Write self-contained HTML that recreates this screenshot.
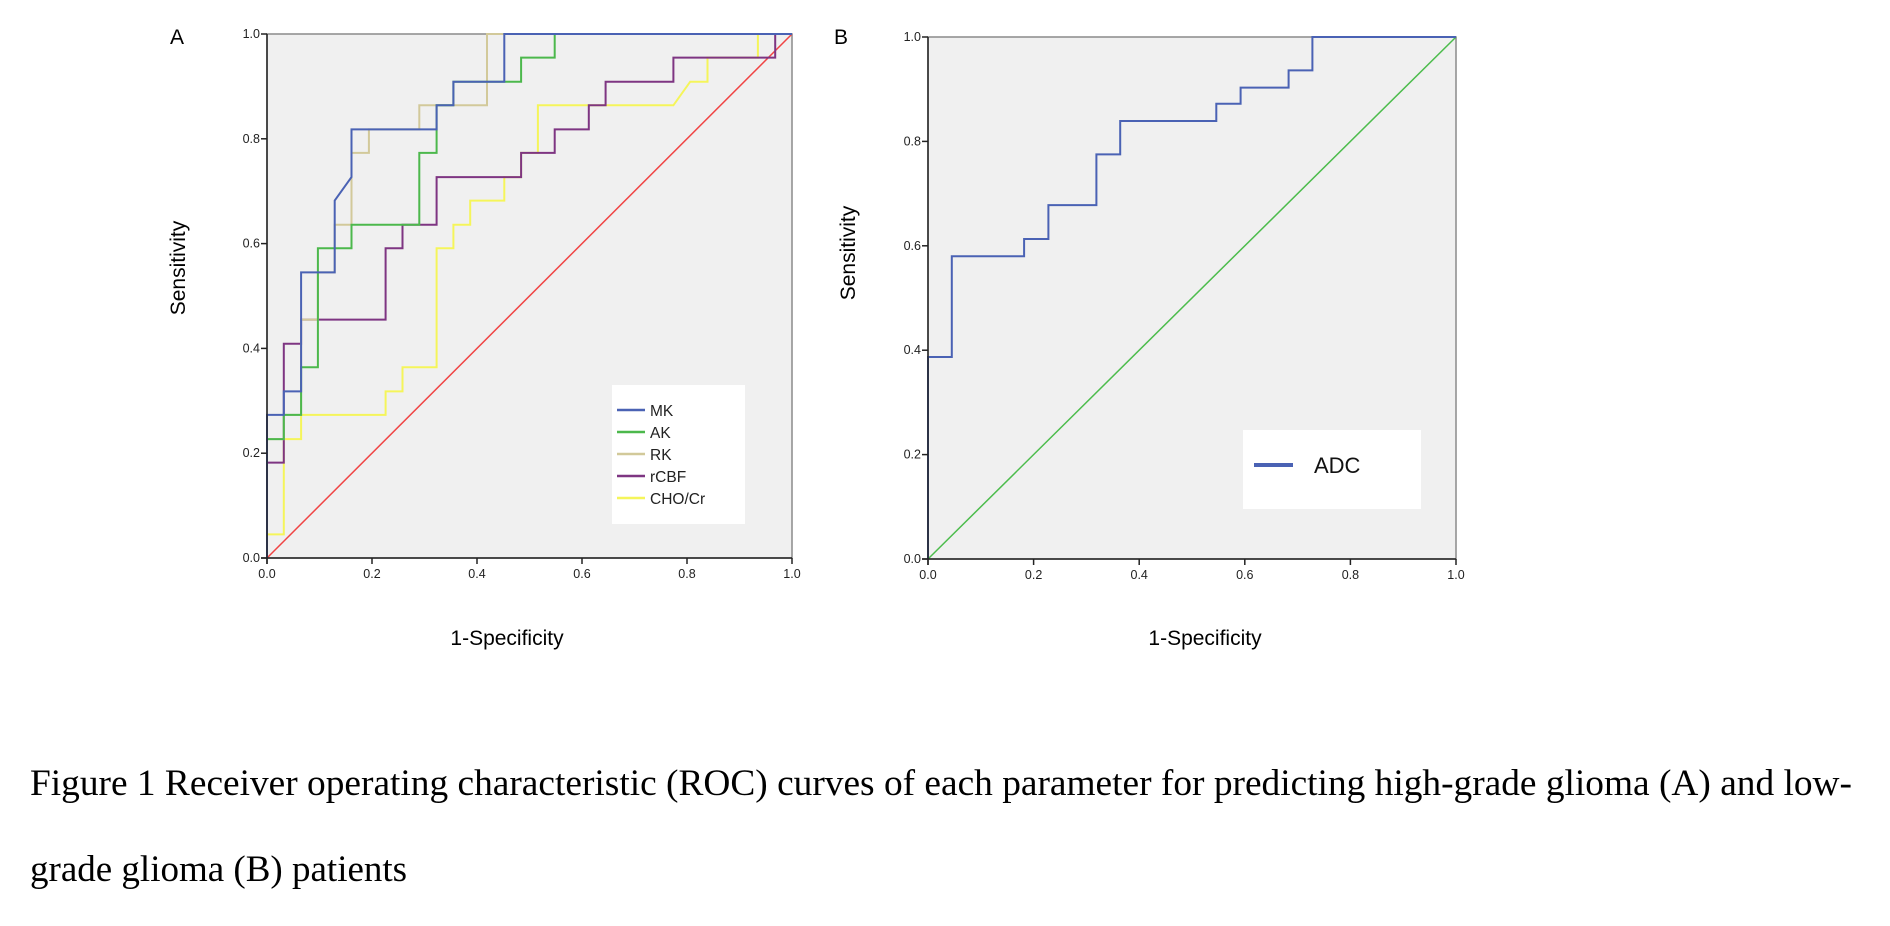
<!DOCTYPE html>
<html><head><meta charset="utf-8">
<style>
html,body{margin:0;padding:0;background:#fff;width:1890px;height:926px;overflow:hidden}
svg{display:block}
.tk{font-family:"Liberation Sans",sans-serif;font-size:12.5px;fill:#222}
.at{font-family:"Liberation Sans","DejaVu Sans",sans-serif;font-size:21px;fill:#000}
.cap{font-family:"Liberation Serif",serif;font-size:37px;fill:#000}
</style></head>
<body>
<svg id="fig" width="1890" height="926">
<text x="170" y="44" class="at">A</text>
<text x="834" y="44" class="at">B</text>
<g id="pa"></g>
<g id="pb"></g>
<text x="30" y="795" class="cap" textLength="1822" lengthAdjust="spacingAndGlyphs">Figure 1 Receiver operating characteristic (ROC) curves of each parameter for predicting high-grade glioma (A) and low-</text>
<text x="30" y="881" class="cap">grade glioma (B) patients</text>
</svg>
<script>
const ticks=[0,0.2,0.4,0.6,0.8,1.0];
const tickLabels=["0.0","0.2","0.4","0.6","0.8","1.0"];
const seriesNamesA=["MK","AK","RK","rCBF","CHO/Cr"];
const mkFpr=[0,0,0.032,0.032,0.065,0.065,0.129,0.129,0.161,0.161,0.323,0.323,0.355,0.355,0.452,0.452,1];
const mkTpr=[0,0.273,0.273,0.318,0.318,0.545,0.545,0.682,0.727,0.818,0.818,0.864,0.864,0.909,0.909,1,1];
const akFpr=[0,0,0.032,0.032,0.065,0.065,0.097,0.097,0.161,0.161,0.29,0.29,0.323,0.323,0.355,0.355,0.484,0.484,0.548,0.548,1];
const akTpr=[0,0.227,0.227,0.273,0.273,0.364,0.364,0.591,0.591,0.636,0.636,0.773,0.773,0.864,0.864,0.909,0.909,0.955,0.955,1,1];
const rkFpr=[0,0,0.032,0.032,0.065,0.065,0.097,0.097,0.129,0.129,0.161,0.161,0.194,0.194,0.29,0.29,0.419,0.419,1];
const rkTpr=[0,0.227,0.227,0.273,0.273,0.455,0.455,0.545,0.545,0.636,0.636,0.773,0.773,0.818,0.818,0.864,0.864,1,1];
const cbfFpr=[0,0,0.032,0.032,0.065,0.065,0.226,0.226,0.258,0.258,0.323,0.323,0.484,0.484,0.548,0.548,0.613,0.613,0.645,0.645,0.774,0.774,0.968,0.968,1];
const cbfTpr=[0,0.182,0.182,0.409,0.409,0.455,0.455,0.591,0.591,0.636,0.636,0.727,0.727,0.773,0.773,0.818,0.818,0.864,0.864,0.909,0.909,0.955,0.955,1,1];
const choFpr=[0,0,0.032,0.032,0.065,0.065,0.226,0.226,0.258,0.258,0.323,0.323,0.355,0.355,0.387,0.387,0.452,0.452,0.484,0.484,0.516,0.516,0.774,0.806,0.839,0.839,0.935,0.935,1];
const choTpr=[0,0.045,0.045,0.227,0.227,0.273,0.273,0.318,0.318,0.364,0.364,0.591,0.591,0.636,0.636,0.682,0.682,0.727,0.727,0.773,0.773,0.864,0.864,0.909,0.909,0.955,0.955,1,1];
const adcFpr=[0,0,0.045,0.045,0.182,0.182,0.228,0.228,0.319,0.319,0.364,0.364,0.546,0.546,0.592,0.592,0.683,0.683,0.728,0.728,1];
const adcTpr=[0,0.387,0.387,0.58,0.58,0.613,0.613,0.678,0.678,0.775,0.775,0.839,0.839,0.872,0.872,0.903,0.903,0.936,0.936,1,1];
const refLine=[0,1];

const NS="http://www.w3.org/2000/svg";
function mk(tag,attrs,parent){const e=document.createElementNS(NS,tag);for(const k in attrs)e.setAttribute(k,attrs[k]);parent.appendChild(e);return e;}

function panel(g,L,R,T,B,series,refColor,ytitleX,ytitleY,xtitleX,xtitleY,prefix){
  const sx=v=>L+v*(R-L), sy=v=>B-v*(B-T);
  const bg=mk('rect',{x:L,y:T,width:R-L,height:B-T,fill:'#f0f0f0',stroke:'#8a8a8a','stroke-width':1.5},g);
  
  
  const ref=mk('line',{x1:sx(refLine[0]),y1:sy(refLine[0]),x2:sx(refLine[1]),y2:sy(refLine[1]),stroke:refColor,'stroke-width':1.5},g);
  
  
  series.forEach(s=>{
    const d=s.x.map((v,i)=>(i?'L':'M')+sx(v).toFixed(1)+' '+sy(s.y[i]).toFixed(1)).join(' ');
    const p=mk('path',{d:d,fill:'none',stroke:s.c,'stroke-width':2},g);
    
    
  });
  mk('line',{x1:L,y1:T,x2:L,y2:B+6,stroke:'#222','stroke-width':1.5},g);
  mk('line',{x1:L-6,y1:B,x2:R,y2:B,stroke:'#222','stroke-width':1.5},g);
  ticks.forEach((t,i)=>{
    mk('line',{x1:sx(t),y1:B,x2:sx(t),y2:B+6,stroke:'#222','stroke-width':1.5},g);
    mk('line',{x1:L-6,y1:sy(t),x2:L,y2:sy(t),stroke:'#222','stroke-width':1.5},g);
    const xl=mk('text',{x:sx(t),y:B+20,'text-anchor':'middle',class:'tk'},g);xl.textContent=tickLabels[i];
    
    
    const yl=mk('text',{x:L-7,y:sy(t)+4,'text-anchor':'end',class:'tk'},g);yl.textContent=tickLabels[i];
    
    
  });
  const yt=mk('text',{x:ytitleX,y:ytitleY,'text-anchor':'middle',class:'at',transform:`rotate(-90 ${ytitleX} ${ytitleY})`},g);yt.textContent='Sensitivity';
  
  
  const xt=mk('text',{x:xtitleX,y:xtitleY,'text-anchor':'middle',class:'at'},g);xt.textContent='1-Specificity';
  
  
}

const colorsA=['#4a62b4','#4cb84c','#d2c99a','#7e3582','#f5f55a'];
const xsA=[mkFpr,akFpr,rkFpr,cbfFpr,choFpr], ysA=[mkTpr,akTpr,rkTpr,cbfTpr,choTpr];
const sA=[4,3,2,1,0].map(i=>({n:seriesNamesA[i],x:xsA[i],y:ysA[i],c:colorsA[i]}));
const ga=document.getElementById('pa');
panel(ga,267,792,34,558,sA,'#f04444',185,268,507,645,'panel-a');
const lgA=mk('g',{},ga);


mk('rect',{x:612,y:385,width:133,height:139,fill:'#fff'},lgA);
seriesNamesA.forEach((n,i)=>{
  const y=410+i*22;
  mk('line',{x1:617,y1:y,x2:645,y2:y,stroke:colorsA[i],'stroke-width':2.5},lgA);
  const t=mk('text',{x:650,y:y+6,style:'font-family:"Liberation Sans",sans-serif;font-size:15.5px;fill:#222'},lgA);t.textContent=n;
  
  
});

const gb=document.getElementById('pb');
panel(gb,928,1456,37,559,[{n:'ADC',x:adcFpr,y:adcTpr,c:'#4a62b4'}],'#4cbc4c',855,253,1205,645,'panel-b');
const lgB=mk('g',{},gb);


mk('rect',{x:1243,y:430,width:178,height:79,fill:'#fff'},lgB);
mk('line',{x1:1254,y1:465,x2:1293,y2:465,stroke:'#4a62b4','stroke-width':4},lgB);
const tb=mk('text',{x:1314,y:473,style:'font-family:"Liberation Sans",sans-serif;font-size:22px;fill:#111'},lgB);tb.textContent='ADC';


</script>
</body></html>
